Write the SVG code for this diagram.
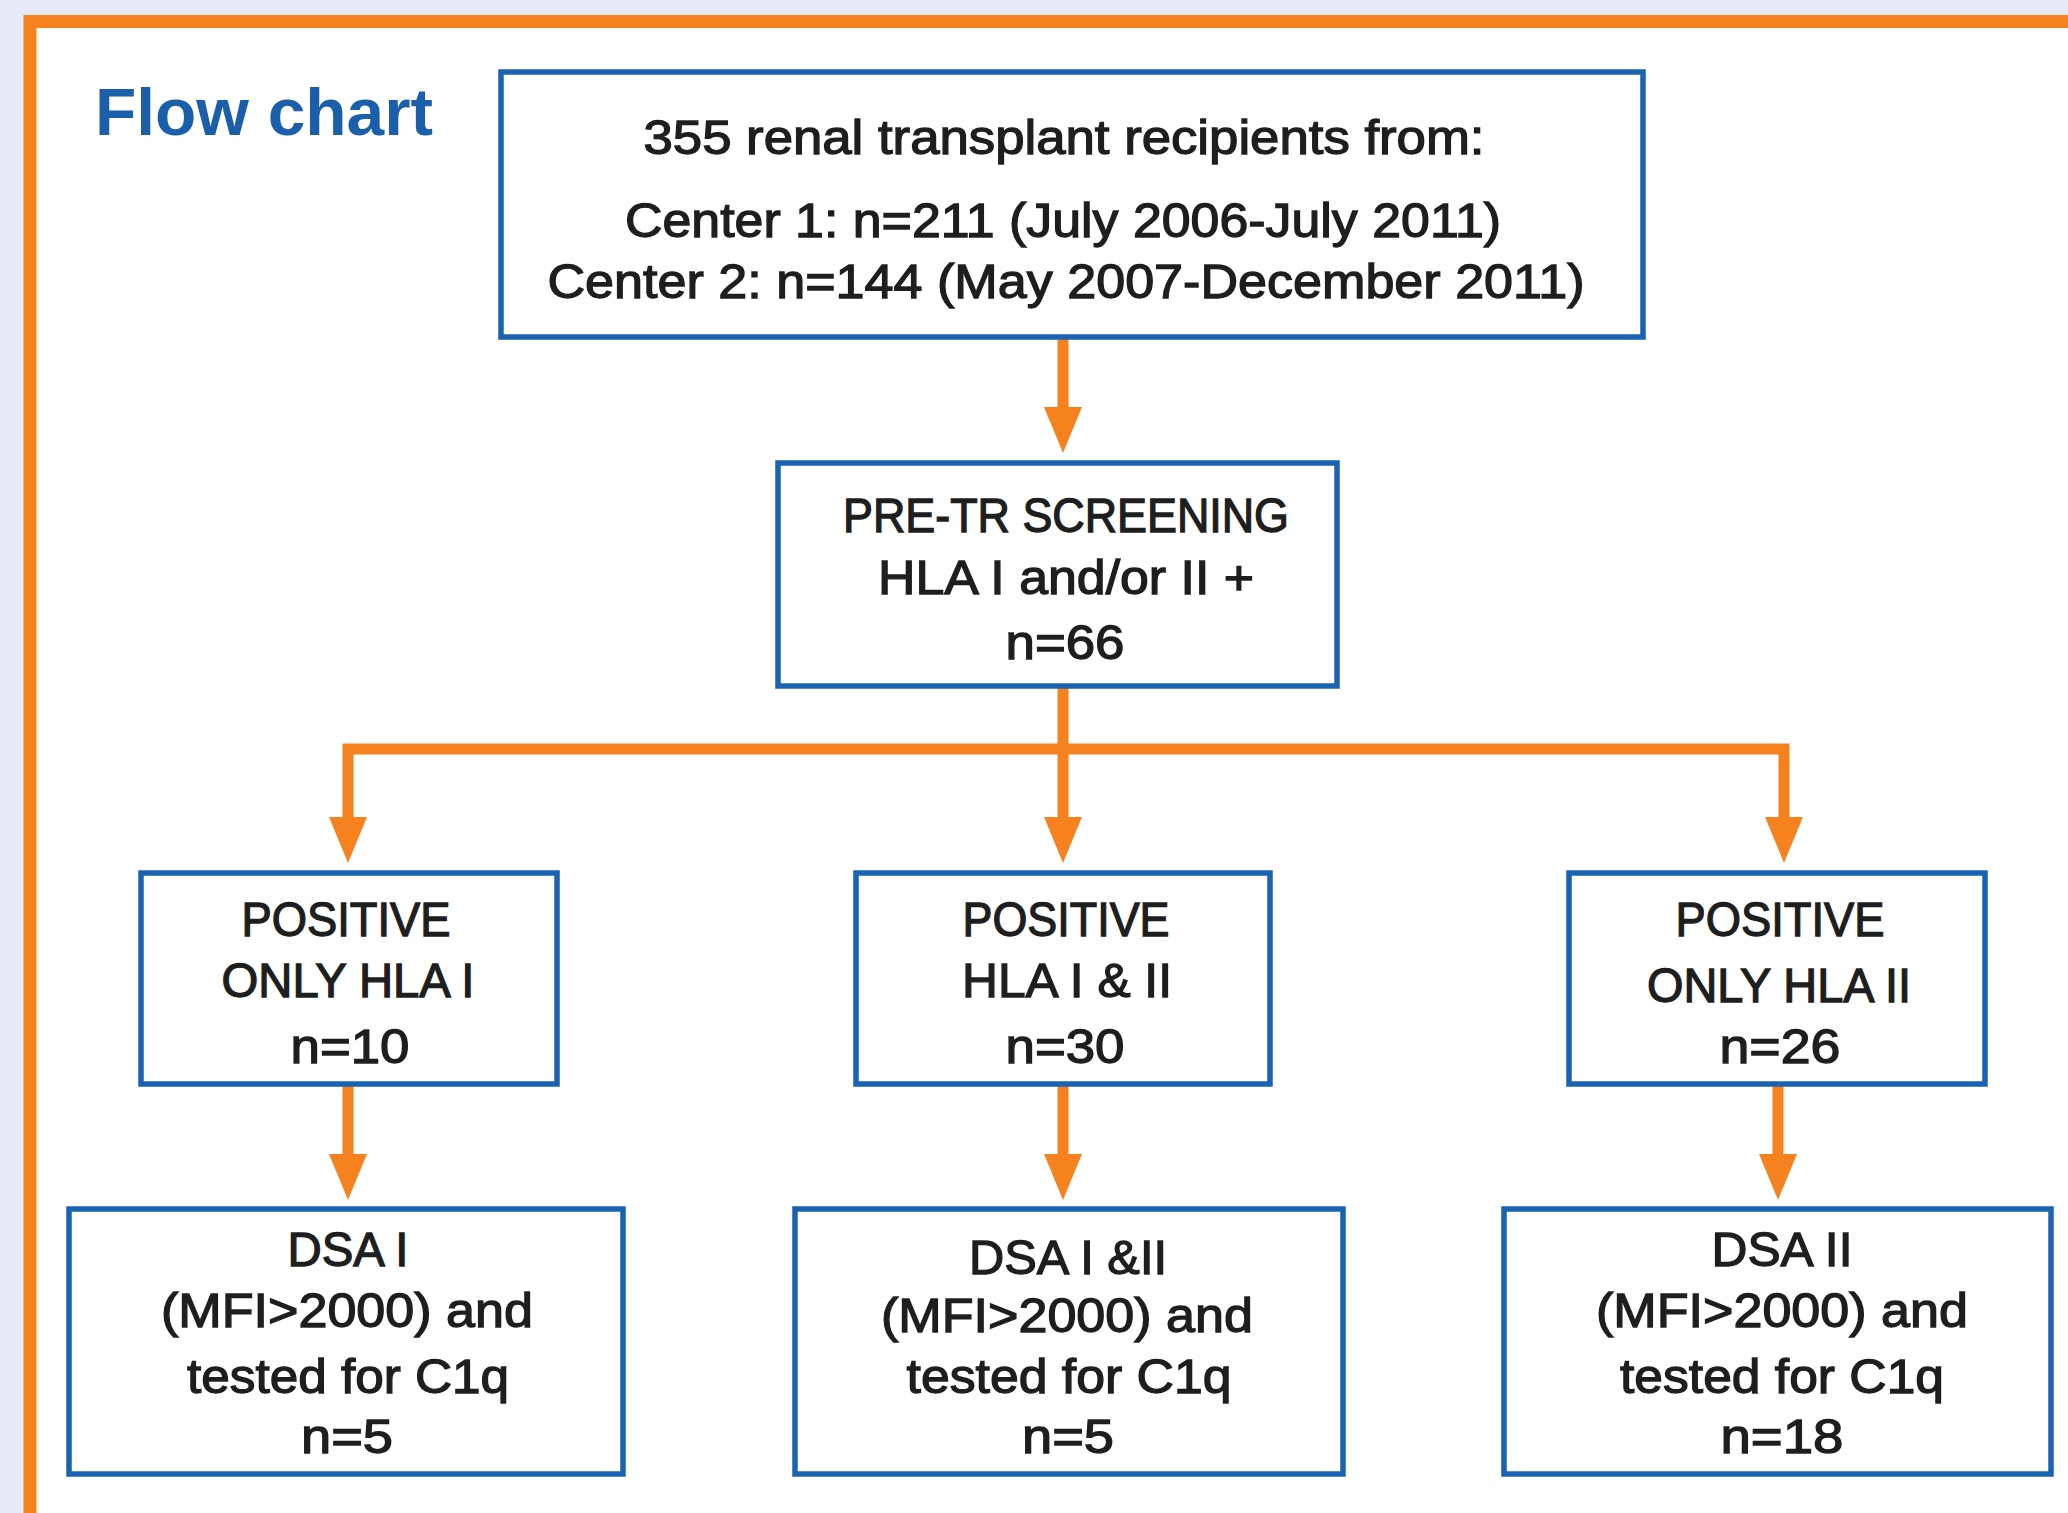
<svg xmlns="http://www.w3.org/2000/svg" width="2068" height="1513" viewBox="0 0 2068 1513">
<defs>
<style>
.box{fill:#ffffff;stroke:#1a63b2;stroke-width:5.5}
.con{fill:none;stroke:#f5821f;stroke-width:11;stroke-linejoin:miter}
.t{font-family:"Liberation Sans",Arial,sans-serif;font-size:48px;fill:#1e1e1e;stroke:#1e1e1e;stroke-width:1.3;text-anchor:middle}
.title{font-family:"Liberation Sans",Arial,sans-serif;font-size:66px;font-weight:bold;fill:#1b5faa}
</style>
<marker id="ah" markerUnits="userSpaceOnUse" markerWidth="46" markerHeight="38" viewBox="0 0 46 38" refX="16" refY="19" orient="auto">
<path d="M0,0 L46,19 L0,38 Z" fill="#f5821f"/>
</marker>
</defs>
<rect x="0" y="0" width="2068" height="1513" fill="#e6eaf6"/>
<rect x="30" y="21.5" width="2100" height="1600" fill="#ffffff" stroke="#f5821f" stroke-width="13"/>
<text class="title" x="95" y="135" textLength="338" lengthAdjust="spacingAndGlyphs">Flow chart</text>

<g id="connectors">
<path class="con" d="M1063,337 V423" marker-end="url(#ah)"/>
<path class="con" d="M1063,686 V833" marker-end="url(#ah)"/>
<path class="con" d="M1063,749 H348 V833" marker-end="url(#ah)"/>
<path class="con" d="M1063,749 H1784 V833" marker-end="url(#ah)"/>
<path class="con" d="M348,1084 V1170" marker-end="url(#ah)"/>
<path class="con" d="M1063,1084 V1170" marker-end="url(#ah)"/>
<path class="con" d="M1778,1084 V1170" marker-end="url(#ah)"/>
</g>

<g id="node-recipients">
<rect class="box" x="501" y="72" width="1142" height="265"/>
<text class="t" x="1064" y="154" textLength="841" lengthAdjust="spacingAndGlyphs">355 renal transplant recipients from:</text>
<text class="t" x="1063" y="237" textLength="876" lengthAdjust="spacingAndGlyphs">Center 1: n=211 (July 2006-July 2011)</text>
<text class="t" x="1066" y="298" textLength="1037" lengthAdjust="spacingAndGlyphs">Center 2: n=144 (May 2007-December 2011)</text>
</g>

<g id="node-screening">
<rect class="box" x="778" y="463" width="559" height="223"/>
<text class="t" x="1066" y="532" textLength="446" lengthAdjust="spacingAndGlyphs">PRE-TR SCREENING</text>
<text class="t" x="1066" y="594" textLength="376" lengthAdjust="spacingAndGlyphs">HLA I and/or II +</text>
<text class="t" x="1065" y="659" textLength="119" lengthAdjust="spacingAndGlyphs">n=66</text>
</g>

<g id="node-pos-hla1">
<rect class="box" x="141" y="873" width="416" height="211"/>
<text class="t" x="346" y="936" textLength="209" lengthAdjust="spacingAndGlyphs">POSITIVE</text>
<text class="t" x="348" y="997" textLength="253" lengthAdjust="spacingAndGlyphs">ONLY HLA I</text>
<text class="t" x="350" y="1063" textLength="119" lengthAdjust="spacingAndGlyphs">n=10</text>
</g>

<g id="node-pos-hla12">
<rect class="box" x="856" y="873" width="414" height="211"/>
<text class="t" x="1066" y="936" textLength="207" lengthAdjust="spacingAndGlyphs">POSITIVE</text>
<text class="t" x="1067" y="997" textLength="210" lengthAdjust="spacingAndGlyphs">HLA I &amp; II</text>
<text class="t" x="1065" y="1063" textLength="119" lengthAdjust="spacingAndGlyphs">n=30</text>
</g>

<g id="node-pos-hla2">
<rect class="box" x="1569" y="873" width="416" height="211"/>
<text class="t" x="1780" y="936" textLength="209" lengthAdjust="spacingAndGlyphs">POSITIVE</text>
<text class="t" x="1779" y="1002" textLength="264" lengthAdjust="spacingAndGlyphs">ONLY HLA II</text>
<text class="t" x="1780" y="1063" textLength="121" lengthAdjust="spacingAndGlyphs">n=26</text>
</g>

<g id="node-dsa1">
<rect class="box" x="69" y="1209" width="554" height="265"/>
<text class="t" x="348" y="1266" textLength="121" lengthAdjust="spacingAndGlyphs">DSA I</text>
<text class="t" x="347" y="1327" textLength="372" lengthAdjust="spacingAndGlyphs">(MFI&gt;2000) and</text>
<text class="t" x="348" y="1393" textLength="322" lengthAdjust="spacingAndGlyphs">tested for C1q</text>
<text class="t" x="347" y="1453" textLength="92" lengthAdjust="spacingAndGlyphs">n=5</text>
</g>

<g id="node-dsa12">
<rect class="box" x="795" y="1209" width="548" height="265"/>
<text class="t" x="1068" y="1274" textLength="198" lengthAdjust="spacingAndGlyphs">DSA I &amp;II</text>
<text class="t" x="1067" y="1332" textLength="372" lengthAdjust="spacingAndGlyphs">(MFI&gt;2000) and</text>
<text class="t" x="1069" y="1393" textLength="325" lengthAdjust="spacingAndGlyphs">tested for C1q</text>
<text class="t" x="1068" y="1453" textLength="92" lengthAdjust="spacingAndGlyphs">n=5</text>
</g>

<g id="node-dsa2">
<rect class="box" x="1504" y="1209" width="547" height="265"/>
<text class="t" x="1782" y="1266" textLength="141" lengthAdjust="spacingAndGlyphs">DSA II</text>
<text class="t" x="1782" y="1327" textLength="372" lengthAdjust="spacingAndGlyphs">(MFI&gt;2000) and</text>
<text class="t" x="1782" y="1393" textLength="324" lengthAdjust="spacingAndGlyphs">tested for C1q</text>
<text class="t" x="1782" y="1453" textLength="123" lengthAdjust="spacingAndGlyphs">n=18</text>
</g>
</svg>
